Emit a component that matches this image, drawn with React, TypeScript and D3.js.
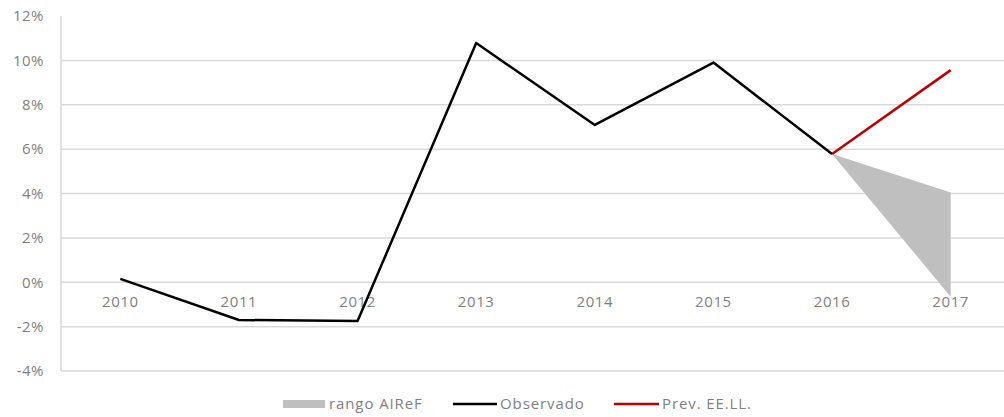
import React from "react";
import * as d3 from "d3";

const years = ["2010", "2011", "2012", "2013", "2014", "2015", "2016", "2017"];
const observado = [0.15, -1.7, -1.75, 10.78, 7.09, 9.9, 5.78];
const prevYears = ["2016", "2017"];
const prevValues = [5.78, 9.56];
const rangoYears = ["2016", "2017"];
const rangoHigh = [5.78, 4.05];
const rangoLow = [5.78, -0.65];
const yTicks = [-4, -2, 0, 2, 4, 6, 8, 10, 12];

const W = 1004;
const H = 417;
const left = 61;
const right = 1010;
const top = 16;
const bottom = 371;

export default function App() {
  const x = d3.scaleBand<string>().domain(years).range([left, right]);
  const cx = (y: string) => (x(y) as number) + x.bandwidth() / 2;
  const y = d3.scaleLinear().domain([-4, 12]).range([bottom, top]);

  const line = d3
    .line<[string, number]>()
    .x((d) => cx(d[0]))
    .y((d) => y(d[1]));
  const area = d3
    .area<[string, number, number]>()
    .x((d) => cx(d[0]))
    .y0((d) => y(d[2]))
    .y1((d) => y(d[1]));

  const obsData = years.slice(0, observado.length).map((yr, i) => [yr, observado[i]] as [string, number]);
  const prevData = prevYears.map((yr, i) => [yr, prevValues[i]] as [string, number]);
  const rangoData = rangoYears.map((yr, i) => [yr, rangoHigh[i], rangoLow[i]] as [string, number, number]);

  const font = "'Open Sans', 'DejaVu Sans', sans-serif";
  const textColor = "#7f7f7f";

  return (
    <svg width={W} height={H} style={{ position: "absolute", left: 0, top: 0 }} fontFamily={font}>
      {yTicks.map((t) => (
        <g key={t}>
          {t !== 12 && (
            <line x1={left} x2={W} y1={y(t)} y2={y(t)} stroke="#d9d9d9" strokeWidth={1.5} />
          )}
          <text x={44} y={y(t)} dy="0.35em" textAnchor="end" fontSize={15} fill={textColor} letterSpacing={0.5}>
            {t}%
          </text>
        </g>
      ))}
      <line x1={left} x2={left} y1={top} y2={bottom} stroke="#d9d9d9" strokeWidth={1.5} />
      <path d={area(rangoData) || ""} fill="#bfbfbf" />
      {years.map((yr) => (
        <text key={yr} x={cx(yr)} y={y(0) + 25} textAnchor="middle" fontSize={15} fill={textColor} letterSpacing={0.6}>
          {yr}
        </text>
      ))}
      <path d={line(obsData) || ""} fill="none" stroke="#000" strokeWidth={2.5} strokeLinejoin="round" />
      <path d={line(prevData) || ""} fill="none" stroke="#c00000" strokeWidth={2.5} strokeLinejoin="round" />

      <g fontSize={15} fill={textColor} letterSpacing={0.9}>
        <rect x={283} y={400} width={42} height={8} fill="#bfbfbf" />
        <text x={329} y={404} dy="0.35em">rango AIReF</text>
        <line x1={453} x2={497} y1={404} y2={404} stroke="#000" strokeWidth={2.5} />
        <text x={500} y={404} dy="0.35em">Observado</text>
        <line x1={614} x2={659} y1={404} y2={404} stroke="#c00000" strokeWidth={2.5} />
        <text x={662} y={404} dy="0.35em">Prev. EE.LL.</text>
      </g>
    </svg>
  );
}
